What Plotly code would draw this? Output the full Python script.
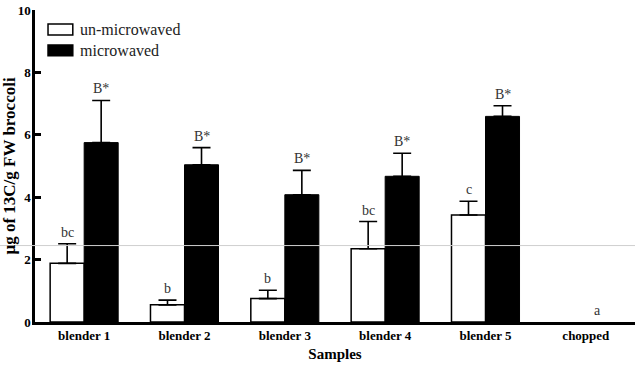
import plotly.graph_objects as go

categories = ["blender 1", "blender 2", "blender 3", "blender 4", "blender 5", "chopped"]
unmicrowaved = [1.88, 0.55, 0.75, 2.35, 3.43, 0.0]
unmicrowaved_err = [0.63, 0.15, 0.27, 0.87, 0.44, 0.0]
microwaved = [5.75, 5.04, 4.08, 4.67, 6.59, 0.0]
microwaved_err = [1.35, 0.55, 0.78, 0.74, 0.34, 0.0]
unmic_letters = ["bc", "b", "b", "bc", "c", "a"]
mic_letters = ["B*", "B*", "B*", "B*", "B*", ""]
series_names = ["un-microwaved", "microwaved"]

FONT = "Liberation Serif, Times New Roman, serif"


def shown(vals):
    return [v if v > 0 else None for v in vals]


fig = go.Figure()
fig.add_trace(go.Bar(
    x=categories, y=shown(unmicrowaved), name=series_names[0],
    marker=dict(color="white", line=dict(color="black", width=1.5)),
    error_y=dict(type="data", array=unmicrowaved_err, symmetric=False,
                 arrayminus=[0]*6, color="black", thickness=1.6, width=9),
))
fig.add_trace(go.Bar(
    x=categories, y=shown(microwaved), name=series_names[1],
    marker=dict(color="black", line=dict(color="black", width=1)),
    error_y=dict(type="data", array=microwaved_err, symmetric=False,
                 arrayminus=[0]*6, color="black", thickness=1.6, width=9),
))

for i, c in enumerate(categories):
    top_u = unmicrowaved[i] + unmicrowaved_err[i]
    top_m = microwaved[i] + microwaved_err[i]
    if unmic_letters[i]:
        fig.add_annotation(x=c, y=top_u, text=unmic_letters[i],
                           xshift=-17 if unmicrowaved[i] > 0 else 12, yshift=2, showarrow=False,
                           yanchor="bottom", font=dict(family=FONT, size=14, color="#333"))
    if mic_letters[i]:
        fig.add_annotation(x=c, y=top_m, text=mic_letters[i],
                           xshift=17, yshift=2, showarrow=False,
                           yanchor="bottom", font=dict(family=FONT, size=14, color="#333"))

# custom legend with wide swatches
legend_rows = [(0.955, 0.92, "white"), (0.888, 0.853, "black")]
for (y1, y0, col), name in zip(legend_rows, series_names):
    fig.add_shape(type="rect", xref="paper", yref="paper", x0=0.0217, x1=0.063, y0=y0, y1=y1,
                  fillcolor=col, line=dict(color="black", width=1.5))
    fig.add_annotation(xref="paper", yref="paper", x=0.071, y=(y0 + y1) / 2, text=name,
                       showarrow=False, xanchor="left", yanchor="middle",
                       font=dict(family=FONT, size=16, color="#222"))

# faint scan line artifact
fig.add_shape(type="line", xref="paper", yref="y", x0=-0.06, x1=1, y0=2.45, y1=2.45,
              line=dict(color="#cfcfcf", width=1), layer="above")

fig.update_layout(
    width=635, height=371,
    margin=dict(l=35, r=0, t=10, b=48.5),
    paper_bgcolor="white", plot_bgcolor="white",
    barmode="group", bargap=0.322, bargroupgap=0,
    showlegend=False,
    font=dict(family=FONT, color="black"),
    xaxis=dict(range=[-0.49, 5.49], showline=True, linecolor="black", linewidth=2.5,
               ticks="", tickfont=dict(family=FONT, size=13, weight="bold"),
               title=dict(text="<b>Samples</b>", font=dict(family=FONT, size=15), standoff=7)),
    yaxis=dict(range=[0, 10], tickvals=[0, 2, 4, 6, 8, 10], showline=True, linecolor="black",
               linewidth=2.5, ticks="inside", ticklen=6, tickwidth=2.5, tickcolor="black",
               showgrid=False, zeroline=False, ticklabelstandoff=-1,
               tickfont=dict(family=FONT, size=13, weight="bold"),
               title=dict(text="<b>µg of 13C/g FW broccoli</b>", font=dict(family=FONT, size=17),
                          standoff=0)),
)

fig.write_html("out.html", config={"displayModeBar": False})
with open("out.html", "r", encoding="utf-8") as f:
    html = f.read()
html = html.replace("<body>", '<body style="margin:0;padding:0">', 1)
with open("out.html", "w", encoding="utf-8") as f:
    f.write(html)
